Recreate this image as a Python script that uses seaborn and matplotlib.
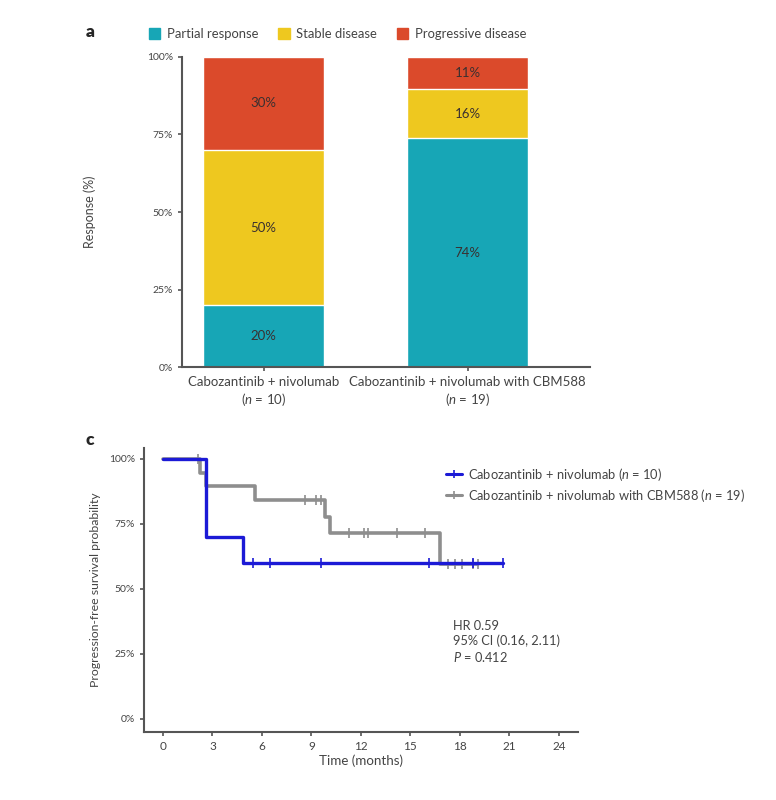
import numpy as np
import pandas as pd
import matplotlib
matplotlib.use('Agg')
import matplotlib.pyplot as plt
from matplotlib.lines import Line2D
from matplotlib.patches import Patch
import seaborn as sns

sns.set_style('ticks')
plt.rcParams['font.family'] = ['Lato', 'DejaVu Sans']
plt.rcParams['mathtext.fontset'] = 'custom'
plt.rcParams['mathtext.it'] = 'Lato:italic'
plt.rcParams['mathtext.rm'] = 'Lato'

# Panel a: respuesta por grupo (%)
groups = ['Cabozantinib + nivolumab\n($\\it{n}$ = 10)',
          'Cabozantinib + nivolumab with CBM588\n($\\it{n}$ = 19)']
partial = [20, 73.7]
stable = [50, 15.8]
progressive = [30, 10.5]
partial_lbl = ['20%', '74%']
stable_lbl = ['50%', '16%']
progressive_lbl = ['30%', '11%']

# Panel c: curvas de supervivencia (escalones)
ctl_t = [0, 2.6, 4.85, 20.6]
ctl_s = [100, 70, 60, 60]
ctl_cens = [5.45, 6.5, 9.6, 16.1, 18.8, 20.6]
cbm_t = [0, 2.25, 2.6, 5.6, 9.8, 10.1, 16.8, 19.1]
cbm_s = [100, 94.7, 89.5, 84.2, 77.5, 71.5, 59.5, 59.5]
cbm_cens = [2.1, 8.6, 9.3, 9.6, 11.3, 12.2, 12.4, 14.2, 15.9, 17.3, 17.7, 18.1, 18.8, 19.1]

c_pr = '#17a6b6'
c_sd = '#eec81f'
c_pd = '#db4a2b'
c_blue = '#1c1ad6'
c_gray = '#8e8e8e'
spine_c = '#555555'
txt_c = '#444444'

fig = plt.figure(figsize=(7.76, 8), dpi=100)
ax1 = fig.add_axes([0.2345, 0.541, 0.526, 0.388])
ax2 = fig.add_axes([0.1856, 0.085, 0.559, 0.355])

# --- barras apiladas ---
df = pd.DataFrame({'group': groups, 'pr': partial, 'sd': stable, 'pd': progressive})
df['top_sd'] = df['pr'] + df['sd']
df['top_pd'] = df['top_sd'] + df['pd']
sns.barplot(data=df, x='group', y='top_pd', color=c_pd, width=0.59, ax=ax1,
            edgecolor='white', linewidth=1, saturation=1)
sns.barplot(data=df, x='group', y='top_sd', color=c_sd, width=0.59, ax=ax1,
            edgecolor='white', linewidth=1, saturation=1)
sns.barplot(data=df, x='group', y='pr', color=c_pr, width=0.59, ax=ax1,
            edgecolor='white', linewidth=1, saturation=1)

for i in range(len(groups)):
    ax1.text(i, partial[i] / 2, partial_lbl[i], ha='center', va='center', fontsize=9.5, color='#3a3030')
    ax1.text(i, partial[i] + stable[i] / 2, stable_lbl[i], ha='center', va='center', fontsize=9.5,
             color='#3a3030')
    ax1.text(i, partial[i] + stable[i] + progressive[i] / 2, progressive_lbl[i], ha='center', va='center',
             fontsize=9.5, color='#3a3030')

ax1.set_xlim(-0.40, 1.60)
ax1.set_ylim(0, 100)
ax1.set_yticks([0, 25, 50, 75, 100])
ax1.set_yticklabels(['0%', '25%', '50%', '75%', '100%'])
ax1.set_xlabel('')
ax1.set_ylabel('Response (%)', fontsize=9, color=txt_c)
ax1.yaxis.set_label_coords(-0.21, 0.5)
ax1.tick_params(axis='y', labelsize=7.5, colors=spine_c, labelcolor=txt_c, length=3, width=1.2)
ax1.tick_params(axis='x', labelsize=9.5, colors=spine_c, labelcolor=txt_c, length=3, width=1.2)

handles = [Patch(color=c_pr, label='Partial response'),
           Patch(color=c_sd, label='Stable disease'),
           Patch(color=c_pd, label='Progressive disease')]
fig.legend(handles=handles, loc='center', bbox_to_anchor=(0.435, 1 - 34 / 800), ncol=3, frameon=False,
           fontsize=9.4, handlelength=0.9, handleheight=0.9, handletextpad=0.5, columnspacing=1.5,
           labelcolor=txt_c)

# --- curvas Kaplan-Meier ---
def step_val(t_list, s_list, t):
    idx = np.searchsorted(t_list, t, side='right') - 1
    return s_list[idx]

km = pd.concat([
    pd.DataFrame({'t': cbm_t, 's': cbm_s, 'arm': 'cbm'}),
    pd.DataFrame({'t': ctl_t, 's': ctl_s, 'arm': 'ctl'}),
])
cens = pd.concat([
    pd.DataFrame({'t': cbm_cens, 's': [step_val(cbm_t, cbm_s, t) for t in cbm_cens], 'arm': 'cbm'}),
    pd.DataFrame({'t': ctl_cens, 's': [step_val(ctl_t, ctl_s, t) for t in ctl_cens], 'arm': 'ctl'}),
])

sns.lineplot(data=km[km.arm == 'cbm'], x='t', y='s', color=c_gray, lw=2.6, drawstyle='steps-post',
             sort=False, ax=ax2)
sns.scatterplot(data=cens[cens.arm == 'cbm'], x='t', y='s', color=c_gray, marker='|', s=45,
                linewidth=1.2, ax=ax2, zorder=3)
sns.lineplot(data=km[km.arm == 'ctl'], x='t', y='s', color=c_blue, lw=2.4, drawstyle='steps-post',
             sort=False, ax=ax2, zorder=4)
sns.scatterplot(data=cens[cens.arm == 'ctl'], x='t', y='s', color=c_blue, marker='|', s=45,
                linewidth=1.2, ax=ax2, zorder=5)

ax2.set_xlim(-1.15, 25.15)
ax2.set_ylim(-5, 104.2)
ax2.set_xticks(range(0, 25, 3))
ax2.set_yticks([0, 25, 50, 75, 100])
ax2.set_yticklabels(['0%', '25%', '50%', '75%', '100%'])
ax2.set_xlabel('Time (months)', fontsize=9.6, color=txt_c, labelpad=2)
ax2.set_ylabel('Progression-free survival probability', fontsize=8.8, color=txt_c)
ax2.yaxis.set_label_coords(-0.10, 0.5)
ax2.tick_params(axis='y', labelsize=7.5, colors=spine_c, labelcolor=txt_c, length=3, width=1.2)
ax2.tick_params(axis='x', labelsize=8.5, colors=spine_c, labelcolor=txt_c, length=3, width=1.2)

leg_h = [Line2D([], [], color=c_blue, lw=2.2, marker='|', markersize=6, markeredgewidth=1.2),
         Line2D([], [], color=c_gray, lw=2.2, marker='|', markersize=6, markeredgewidth=1.2)]
leg_l = ['Cabozantinib + nivolumab ($\\it{n}$ = 10)',
         'Cabozantinib + nivolumab with CBM588 ($\\it{n}$ = 19)']
ax2.legend(leg_h, leg_l, loc='upper left', bbox_to_anchor=(0.67, 0.978), frameon=False, fontsize=9.3,
           handlelength=1.2, handletextpad=0.5, labelspacing=0.3, labelcolor=txt_c)

ax2.text(17.6, 29.6, 'HR 0.59\n95% CI (0.16, 2.11)\n$\\it{P}$ = 0.412', fontsize=9.2, color=txt_c,
         va='center', ha='left', linespacing=1.2)

for ax in (ax1, ax2):
    sns.despine(ax=ax)
    for sp in ('left', 'bottom'):
        ax.spines[sp].set_color(spine_c)
        ax.spines[sp].set_linewidth(1.5)

fig.text(86 / 776, 1 - 32 / 800, 'a', fontsize=12.5, fontweight='heavy', va='center', ha='left')
fig.text(86 / 776, 1 - 440 / 800, 'c', fontsize=12.5, fontweight='heavy', va='center', ha='left')

fig.savefig('out.png', dpi=100)
